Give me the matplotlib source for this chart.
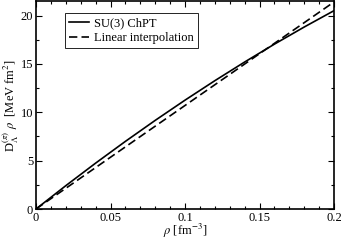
import numpy as np
import matplotlib.pyplot as plt
from matplotlib.ticker import MultipleLocator

plt.rcParams['font.family'] = ['Liberation Serif', 'DejaVu Serif']
plt.rcParams['mathtext.fontset'] = 'stix'

# values
rho = [0.0, 0.02, 0.04, 0.06, 0.08, 0.10, 0.12, 0.14, 0.16, 0.18, 0.20]
chpt = [0.0, 2.41, 4.74, 6.99, 9.16, 11.25, 13.26, 15.19, 17.04, 18.81, 20.5]
rho_lin = [0.0, 0.20]
linear = [0.0, 21.4]

fig = plt.figure(figsize=(3.41, 2.40), dpi=100)
ax = fig.add_axes([36/341, 1 - 209/240, 298/341, 208/240])

ax.plot(rho, chpt, color='black', lw=1.2, label='SU(3) ChPT')
ax.plot(rho_lin, linear, color='black', lw=1.2, dashes=(5, 2.5), label='Linear interpolation')

ax.set_xlim(0, 0.2)
ax.set_ylim(0, 21.5)
ax.set_xticks([0, 0.05, 0.1, 0.15, 0.2])
ax.set_xticklabels(['0', '0.05', '0.1', '0.15', '0.2'])
ax.set_yticks([0, 5, 10, 15, 20])
ax.xaxis.set_minor_locator(MultipleLocator(0.01))
ax.yaxis.set_minor_locator(MultipleLocator(2.5))
ax.tick_params(which='both', direction='in', top=True, right=True, labelsize=9, width=0.8)
ax.tick_params(which='major', length=4, pad=2)
ax.tick_params(which='minor', length=2)
for s in ax.spines.values():
    s.set_linewidth(1.2)

ax.set_xlabel(r'$\rho$ [fm$^{-3}$]', fontsize=9, labelpad=-1)
ax.set_ylabel(r'D$_\Lambda^{(\pi)}$ $\rho$  [MeV fm$^2$]', fontsize=9, labelpad=0)

leg = ax.legend(loc='upper left', bbox_to_anchor=(0.097, 0.942), borderaxespad=0,
                fontsize=9, handlelength=1.6, handletextpad=0.4, borderpad=0.35,
                labelspacing=0.2, fancybox=False, framealpha=1)
leg.get_frame().set_edgecolor('black')
leg.get_frame().set_linewidth(0.6)

fig.savefig('out.png', dpi=100)
